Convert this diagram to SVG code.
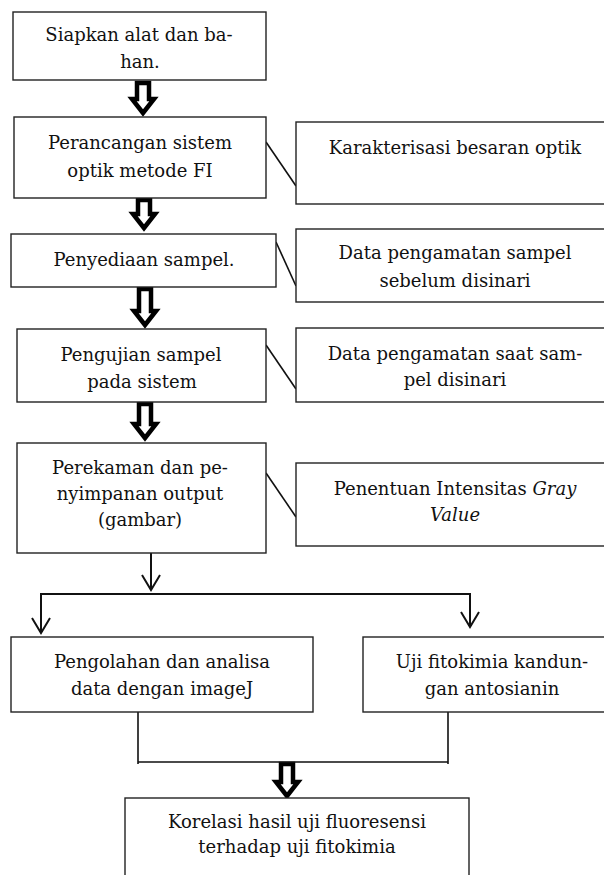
<svg xmlns="http://www.w3.org/2000/svg" width="604" height="875" viewBox="0 0 604 875">
<style>
.box{fill:#fff;stroke:#222;stroke-width:1.4}
.t{font-family:"DejaVu Serif","Liberation Serif",serif;font-size:18px;fill:#111;text-anchor:middle}
.ln{fill:none;stroke:#111;stroke-width:1.6}
.ln2{fill:none;stroke:#111;stroke-width:2}
.blk{fill:#fff;stroke:#000;stroke-width:4.5;stroke-linejoin:miter;stroke-miterlimit:10}
</style>
<rect width="604" height="875" fill="#fff"/>
<g id="connectors">
<path class="blk" d="M137,83 H149 V99 H154 L143,113 L132,99 H137 Z"/>
<path class="blk" d="M138,200 H150 V214 H155 L144,228 L133,214 H138 Z"/>
<path class="blk" d="M139,289 H151 V311 H156 L145,325 L134,311 H139 Z"/>
<path class="blk" d="M139,404 H151 V424 H156 L145,438 L134,424 H139 Z"/>
<path class="blk" d="M281,764 H293 V782 H298 L287,796 L276,782 H281 Z"/>
<line class="ln" x1="266" y1="142" x2="296" y2="186"/>
<line class="ln" x1="276" y1="242" x2="296" y2="286"/>
<line class="ln" x1="266" y1="345" x2="296" y2="389"/>
<line class="ln" x1="266" y1="473" x2="296" y2="517"/>
<path class="ln2" d="M151,553 V590 M142,575 L151,590 L160,575"/>
<path class="ln2" d="M41,633 V594 H470 V627 M32,618 L41,633 L50,618 M461,612 L470,627 L479,612"/>
<path class="ln" d="M138,712 V764 M448,712 V764 M138,762 H448"/>
</g>
<g id="n1"><rect class="box" x="13" y="12" width="253" height="68"/>
<text class="t" x="139" y="41">Siapkan alat dan ba-</text><text class="t" x="140" y="68">han.</text></g>
<g id="n2"><rect class="box" x="14" y="117" width="252" height="81"/>
<text class="t" x="140" y="149">Perancangan sistem</text><text class="t" x="140" y="177">optik metode FI</text></g>
<g id="n3"><rect class="box" x="11" y="234" width="265" height="53"/>
<text class="t" x="144" y="266">Penyediaan sampel.</text></g>
<g id="n4"><rect class="box" x="17" y="329" width="249" height="73"/>
<text class="t" x="141" y="361">Pengujian sampel</text><text class="t" x="142" y="388">pada sistem</text></g>
<g id="n5"><rect class="box" x="17" y="443" width="249" height="110"/>
<text class="t" x="140" y="474">Perekaman dan pe-</text><text class="t" x="140" y="500">nyimpanan output</text><text class="t" x="140" y="526">(gambar)</text></g>
<g id="r1"><rect class="box" x="296" y="122" width="310" height="82"/>
<text class="t" x="455" y="154">Karakterisasi besaran optik</text></g>
<g id="r2"><rect class="box" x="296" y="229" width="310" height="73"/>
<text class="t" x="455" y="259">Data pengamatan sampel</text><text class="t" x="455" y="287">sebelum disinari</text></g>
<g id="r3"><rect class="box" x="296" y="328" width="310" height="74"/>
<text class="t" x="455" y="360">Data pengamatan saat sam-</text><text class="t" x="455" y="386">pel disinari</text></g>
<g id="r4"><rect class="box" x="296" y="463" width="310" height="83"/>
<text class="t" x="455" y="495">Penentuan Intensitas <tspan font-style="italic">Gray</tspan></text><text class="t" x="455" y="521" font-style="italic">Value</text></g>
<g id="n6"><rect class="box" x="11" y="637" width="302" height="75"/>
<text class="t" x="162" y="668">Pengolahan dan analisa</text><text class="t" x="162" y="695">data dengan imageJ</text></g>
<g id="n7"><rect class="box" x="363" y="637" width="243" height="75"/>
<text class="t" x="492" y="668">Uji fitokimia kandun-</text><text class="t" x="492" y="695">gan antosianin</text></g>
<g id="n8"><rect class="box" x="125" y="798" width="344" height="90"/>
<text class="t" x="297" y="828">Korelasi hasil uji fluoresensi</text><text class="t" x="297" y="853">terhadap uji fitokimia</text></g>
</svg>
